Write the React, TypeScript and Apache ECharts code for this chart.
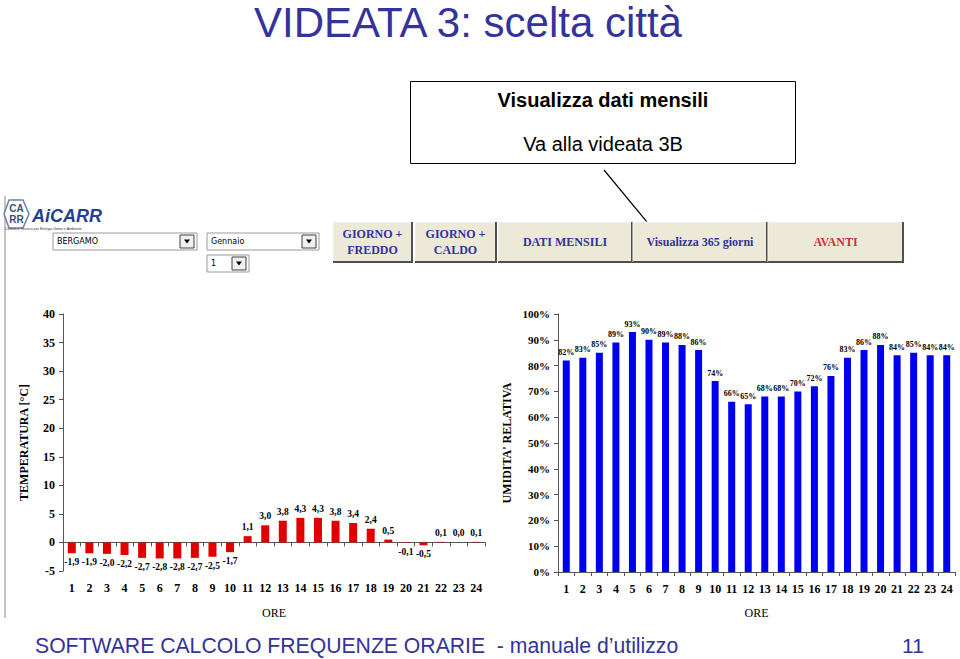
import React, { useEffect, useRef } from "react";
import * as echarts from "echarts";

const hours = ["1","2","3","4","5","6","7","8","9","10","11","12","13","14","15","16","17","18","19","20","21","22","23","24"];
const temperature = [-1.9,-1.9,-2.0,-2.2,-2.7,-2.8,-2.8,-2.7,-2.5,-1.7,1.1,3.0,3.8,4.3,4.3,3.8,3.4,2.4,0.5,-0.1,-0.5,0.1,0.0,0.1];
const humidity = [82,83,85,89,93,90,89,88,86,74,66,65,68,68,70,72,76,83,86,88,84,85,84,84];

const titleText = "VIDEATA 3: scelta città";
const footerText = "SOFTWARE CALCOLO FREQUENZE ORARIE  - manuale d\u2019utilizzo";
const pageNumber = "11";

const SERIF = "'Times New Roman', 'Liberation Serif', serif";
const SANS = "Arial, 'Liberation Sans', sans-serif";
const BLUE_T = "#333399";

function button(x: number, y: number, w: number, h: number, lines: string[], color: string) {
  const children: any[] = [
    { type: "rect", shape: { x, y, width: w, height: h }, style: { fill: "#ece9d8", stroke: "#f8f8f4", lineWidth: 1 } },
    { type: "polyline", shape: { points: [[x + w, y], [x + w, y + h], [x, y + h]] }, style: { stroke: "#505050", lineWidth: 2, fill: null } },
  ];
  if (lines.length === 1) {
    children.push({ type: "text", style: { text: lines[0], x: x + w / 2, y: y + h / 2, textAlign: "center", textVerticalAlign: "middle", font: `bold 12px ${SERIF}`, fill: color } });
  } else {
    children.push({ type: "text", style: { text: lines[0], x: x + w / 2, y: y + h / 2 - 8, textAlign: "center", textVerticalAlign: "middle", font: `bold 12px ${SERIF}`, fill: color } });
    children.push({ type: "text", style: { text: lines[1], x: x + w / 2, y: y + h / 2 + 8, textAlign: "center", textVerticalAlign: "middle", font: `bold 12px ${SERIF}`, fill: color } });
  }
  return { type: "group", silent: true, children };
}

function dropdown(x: number, y: number, w: number, h: number, text: string) {
  const bx = x + w - 17;
  return {
    type: "group",
    silent: true,
    children: [
      { type: "rect", shape: { x, y, width: w, height: h }, style: { fill: "#fff", stroke: "#9a9a9a", lineWidth: 1 } },
      { type: "text", style: { text, x: x + 4, y: y + h / 2, textVerticalAlign: "middle", font: `8px 'DejaVu Sans', sans-serif`, fill: "#000" } },
      { type: "rect", shape: { x: bx, y: y + 2, width: 14, height: h - 4 }, style: { fill: "#f0f0f0", stroke: "#404040", lineWidth: 1 } },
      { type: "polygon", shape: { points: [[bx + 4, y + h / 2 - 2], [bx + 10, y + h / 2 - 2], [bx + 7, y + h / 2 + 2]] }, style: { fill: "#000" } },
    ],
  };
}

function arrow(x1: number, y1: number, x2: number, y2: number) {
  const dx = x2 - x1, dy = y2 - y1;
  const len = Math.sqrt(dx * dx + dy * dy);
  const ux = dx / len, uy = dy / len;
  const hl = 10, hw = 4;
  const bx = x2 - ux * hl, by = y2 - uy * hl;
  return {
    type: "group",
    silent: true,
    children: [
      { type: "line", shape: { x1, y1, x2: bx, y2: by }, style: { stroke: "#000", lineWidth: 1.2 } },
      { type: "polygon", shape: { points: [[x2, y2], [bx - uy * hw, by + ux * hw], [bx + uy * hw, by - ux * hw]] }, style: { fill: "#000" } },
    ],
  };
}

export default function App() {
  const ref = useRef<HTMLDivElement>(null);
  useEffect(() => {
    if (!ref.current) return;
    const chart = echarts.init(ref.current, null, { renderer: "svg" });
    const fmtTemp = (p: any) => Number(p.value).toFixed(1).replace(".", ",").replace("-0,0", "0,0");
    const axisLabelStyle = { fontFamily: SERIF, fontWeight: "bold" as const, fontSize: 12, color: "#000" };
    const barLabel = { fontFamily: SERIF, fontWeight: "bold" as const, fontSize: 9.5, color: "#000" };
    const nameStyle = { fontFamily: SERIF, fontWeight: "bold" as const, fontSize: 12, color: "#000" };
    const option: any = {
      animation: false,
      backgroundColor: "#fff",
      grid: [
        { left: 63, top: 314, width: 422, height: 257 },
        { left: 558, top: 314, width: 397, height: 258 },
      ],
      xAxis: [
        {
          gridIndex: 0, type: "category", data: hours, position: "bottom",
          axisLine: { onZero: true, lineStyle: { color: "#555", width: 1 } },
          axisTick: { show: true, length: 4, lineStyle: { color: "#555" } },
          axisLabel: { show: false },
        },
        {
          gridIndex: 0, type: "category", data: hours, position: "bottom",
          axisLine: { show: false, onZero: false },
          axisTick: { show: false },
          axisLabel: { ...axisLabelStyle, margin: 11 },
          name: "ORE", nameLocation: "middle", nameGap: 36,
          nameTextStyle: { fontFamily: SERIF, fontSize: 12, color: "#000" },
        },
        {
          gridIndex: 1, type: "category", data: hours, position: "bottom",
          axisLine: { lineStyle: { color: "#555", width: 1 } },
          axisTick: { show: true, length: 4, lineStyle: { color: "#555" } },
          axisLabel: { ...axisLabelStyle, margin: 11 },
          name: "ORE", nameLocation: "middle", nameGap: 35,
          nameTextStyle: { fontFamily: SERIF, fontSize: 12, color: "#000" },
        },
      ],
      yAxis: [
        {
          gridIndex: 0, type: "value", min: -5, max: 40, interval: 5,
          axisLine: { show: true, lineStyle: { color: "#555" } },
          axisTick: { show: true, length: 4, lineStyle: { color: "#555" } },
          splitLine: { show: false },
          axisLabel: { ...axisLabelStyle, margin: 8 },
          name: "TEMPERATURA [°C]", nameLocation: "middle", nameGap: 33,
          nameTextStyle: nameStyle,
        },
        {
          gridIndex: 1, type: "value", min: 0, max: 100, interval: 10,
          axisLine: { show: true, lineStyle: { color: "#555" } },
          axisTick: { show: true, length: 4, lineStyle: { color: "#555" } },
          splitLine: { show: false },
          axisLabel: { ...axisLabelStyle, fontSize: 11, margin: 8, formatter: "{value}%" },
          name: "UMIDITA' RELATIVA", nameLocation: "middle", nameGap: 45,
          nameTextStyle: nameStyle,
        },
      ],
      series: [
        {
          type: "bar", xAxisIndex: 0, yAxisIndex: 0, barWidth: 8,
          itemStyle: { color: "#e00000" },
          data: temperature.map((v) => ({ value: v, label: { position: v < 0 ? "bottom" : "top" } })),
          label: { show: true, distance: 4, formatter: fmtTemp, ...barLabel },
        },
        {
          type: "bar", xAxisIndex: 2, yAxisIndex: 1, barWidth: 7,
          itemStyle: { color: "#0000f0" },
          data: humidity,
          label: { show: true, position: "top", distance: 4, formatter: "{c}%", ...barLabel, fontSize: 8 },
        },
      ],
      graphic: [
        { type: "text", silent: true, style: { text: titleText, x: 468, y: 22, textAlign: "center", textVerticalAlign: "middle", font: `42px ${SANS}`, fill: BLUE_T } },
        { type: "rect", silent: true, shape: { x: 410.5, y: 81.5, width: 385, height: 82 }, style: { fill: "#fff", stroke: "#000", lineWidth: 1 } },
        { type: "text", silent: true, style: { text: "Visualizza dati mensili", x: 603, y: 100, textAlign: "center", textVerticalAlign: "middle", font: `bold 20px ${SANS}`, fill: "#000" } },
        { type: "text", silent: true, style: { text: "Va alla videata 3B", x: 603, y: 144, textAlign: "center", textVerticalAlign: "middle", font: `20px ${SANS}`, fill: "#000" } },
        arrow(604, 170, 657, 234),
        { type: "line", silent: true, shape: { x1: 5, y1: 196, x2: 5, y2: 618 }, style: { stroke: "#b0b0b0", lineWidth: 1.5 } },
        // logo
        { type: "polygon", silent: true, shape: { points: [[9, 200], [23, 200], [29, 214], [23, 228], [9, 228], [4, 214]] }, style: { fill: "#fff", stroke: "#6b7fa8", lineWidth: 1.5 } },
        { type: "text", silent: true, style: { text: "CA", x: 16.5, y: 208, textAlign: "center", textVerticalAlign: "middle", font: `bold 10px ${SANS}`, fill: "#3a4f7a" } },
        { type: "text", silent: true, style: { text: "RR", x: 16.5, y: 219, textAlign: "center", textVerticalAlign: "middle", font: `bold 10px ${SANS}`, fill: "#3a4f7a" } },
        { type: "text", silent: true, style: { text: "AiCARR", x: 32, y: 216, textVerticalAlign: "middle", font: `italic bold 18px ${SANS}`, fill: "#1f3f8f" } },
        { type: "text", silent: true, style: { text: "Cultura e Tecnica per Energia Uomo e Ambiente", x: 5, y: 229, textVerticalAlign: "middle", font: `3.6px ${SANS}`, fill: "#333" } },
        dropdown(53, 233, 144, 17, "BERGAMO"),
        dropdown(207, 233, 112, 17, "Gennaio"),
        dropdown(207, 255, 42, 17, "1"),
        button(333, 222, 79, 40, ["GIORNO +", "FREDDO"], BLUE_T),
        button(415, 222, 81, 40, ["GIORNO +", "CALDO"], BLUE_T),
        button(498, 222, 134, 40, ["DATI MENSILI"], BLUE_T),
        button(633, 222, 134, 40, ["Visualizza 365 giorni"], BLUE_T),
        button(768, 222, 135, 40, ["AVANTI"], "#cc3333"),
        { type: "text", silent: true, style: { text: footerText, x: 35, y: 645, textVerticalAlign: "middle", font: `21.2px ${SANS}`, fill: BLUE_T } },
        { type: "text", silent: true, style: { text: pageNumber, x: 913, y: 645, textAlign: "center", textVerticalAlign: "middle", font: `21px ${SANS}`, fill: BLUE_T } },
      ],
    };
    chart.setOption(option);
    return () => chart.dispose();
  }, []);
  return <div ref={ref} style={{ position: "fixed", left: 0, top: 0, width: 960, height: 659 }} />;
}
